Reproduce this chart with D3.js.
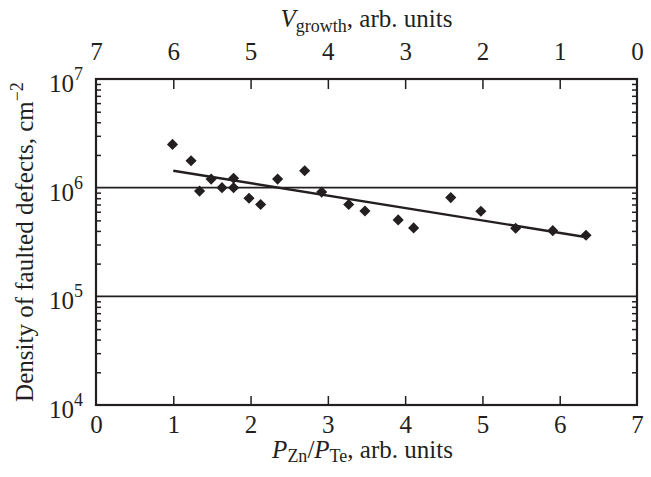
<!DOCTYPE html>
<html>
<head>
<meta charset="utf-8">
<script src="https://cdn.jsdelivr.net/npm/d3@7"></script>
<style>
  body { margin: 0; background: #fff; }
  svg { display: block; }
  text { font-family: "Liberation Serif", "Times New Roman", serif; fill: #231f20; }
</style>
</head>
<body>
<svg width="651" height="477"></svg>
<script>
// pressure ratio P_Zn/P_Te and defect density
var ratioValues = [0.99, 1.23, 1.34, 1.49, 1.63, 1.78, 1.78, 1.98, 2.13, 2.35, 2.70,
    2.92, 3.27, 3.48, 3.91, 4.11, 4.59, 4.98, 5.43, 5.91, 6.34];
var densityValues = [2.5e6, 1.77e6, 9.3e5, 1.2e6, 1.0e6, 1.22e6, 1.0e6, 8.0e5, 7.0e5, 1.2e6, 1.43e6,
    9.1e5, 7.0e5, 6.1e5, 5.05e5, 4.26e5, 8.1e5, 6.06e5, 4.23e5, 4.02e5, 3.65e5];
// straight fit (in log scale) endpoints
var fitX = [1.0, 6.35];
var fitY = [1.43e6, 3.5e5];

var bottomTicks = [0, 1, 2, 3, 4, 5, 6, 7];
var topTicks = [7, 6, 5, 4, 3, 2, 1, 0];
var decadeTicks = [1e4, 1e5, 1e6, 1e7];
var decadeExp = ['4', '5', '6', '7'];
var gridValues = [1e5, 1e6];

var svg = d3.select('svg');
var padding = {top: 79, left: 96, right: 14, bottom: 72};
var myWidth = 651 - padding.left - padding.right;
var myHeight = 477 - padding.top - padding.bottom;
var ink = '#231f20';
var fontSize = '25px';
var subSize = '18px';

var chartG = svg.append('g')
    .attr('transform', 'translate(' + [padding.left, padding.top] + ')');

var xScale = d3.scaleLinear().domain([0, 7]).range([0, myWidth]);
var xTopScale = d3.scaleLinear().domain([7, 0]).range([0, myWidth]);
var yScale = d3.scaleLog().domain([1e4, 1e7]).range([myHeight, 0]);

// minor log ticks 2..9 in every decade
var minorTicks = [];
decadeTicks.slice(0, 3).forEach(function(d) {
    for (var k = 2; k <= 9; k++) minorTicks.push(k * d);
});

// gridlines at 10^5 and 10^6
chartG.selectAll('.grid')
    .data(gridValues)
    .enter()
    .append('line')
    .attr('class', 'grid')
    .attr('x1', 0)
    .attr('x2', myWidth)
    .attr('y1', function(d) { return yScale(d); })
    .attr('y2', function(d) { return yScale(d); })
    .style('stroke', ink)
    .style('stroke-width', 1.6);

// bottom axis
var xAxisG = chartG.append('g')
    .attr('transform', 'translate(0,' + myHeight + ')')
    .call(d3.axisBottom(xScale).tickValues(bottomTicks).tickSize(-9).tickPadding(10)
        .tickFormat(d3.format('d')));

// top axis (growth rate, reversed)
var xTopG = chartG.append('g')
    .call(d3.axisTop(xTopScale).tickValues(topTicks).tickSize(-10).tickPadding(19)
        .tickFormat(d3.format('d')));

// left and right minor ticks
var yLeftG = chartG.append('g')
    .call(d3.axisLeft(yScale).tickValues(minorTicks).tickSize(-5).tickFormat(''));
var yRightG = chartG.append('g')
    .attr('transform', 'translate(' + myWidth + ',0)')
    .call(d3.axisRight(yScale).tickValues(minorTicks).tickSize(-5).tickFormat(''));

[xAxisG, xTopG, yLeftG, yRightG].forEach(function(g) {
    g.attr('font-family', null).attr('font-size', null);
    g.select('.domain').remove();
    g.selectAll('line').style('stroke', ink).style('stroke-width', 1.5);
    g.selectAll('text')
        .style('font-size', fontSize)
        .style('fill', ink);
});
xTopG.selectAll('.tick').filter(function(d) { return d === 7 || d === 0; }).select('line').remove();
xAxisG.selectAll('.tick').filter(function(d) { return d === 7 || d === 0; }).select('line').remove();

// decade labels 10^n
var decadeLabels = chartG.selectAll('.decade')
    .data(decadeTicks)
    .enter()
    .append('text')
    .attr('class', 'decade')
    .attr('text-anchor', 'end')
    .attr('x', -13)
    .attr('y', function(d) { return yScale(d) + 13; })
    .style('font-size', fontSize);
decadeLabels.append('tspan').text('10');
decadeLabels.append('tspan')
    .attr('dy', -12)
    .style('font-size', subSize)
    .text(function(d, i) { return decadeExp[i]; });

// frame
chartG.append('rect')
    .attr('width', myWidth)
    .attr('height', myHeight)
    .style('fill', 'none')
    .style('stroke', ink)
    .style('stroke-width', 2.2);

// fit line
var line = d3.line()
    .x(function(d) { return xScale(d[0]); })
    .y(function(d) { return yScale(d[1]); });
chartG.append('path')
    .datum(d3.zip(fitX, fitY))
    .attr('d', line)
    .style('fill', 'none')
    .style('stroke', ink)
    .style('stroke-width', 2.4);

// diamonds
var diamond = d3.symbol().type(d3.symbolSquare).size(62);
chartG.selectAll('.pt')
    .data(d3.zip(ratioValues, densityValues))
    .enter()
    .append('path')
    .attr('class', 'pt')
    .attr('d', diamond)
    .attr('transform', function(d) {
        return 'translate(' + [xScale(d[0]), yScale(d[1])] + ') rotate(45)';
    })
    .style('fill', ink);

// axis titles
var topTitle = svg.append('text')
    .attr('x', padding.left + myWidth / 2)
    .attr('y', 27)
    .attr('text-anchor', 'middle')
    .style('font-size', fontSize);
topTitle.append('tspan').style('font-style', 'italic').text('V');
topTitle.append('tspan').attr('dy', 5).style('font-size', subSize).text('growth');
topTitle.append('tspan').attr('dy', -5).text(', arb. units');

var bottomTitle = svg.append('text')
    .attr('x', padding.left + myWidth / 2 - 4)
    .attr('y', 458)
    .attr('text-anchor', 'middle')
    .style('font-size', fontSize);
bottomTitle.append('tspan').style('font-style', 'italic').text('P');
bottomTitle.append('tspan').attr('dy', 4).style('font-size', subSize).text('Zn');
bottomTitle.append('tspan').attr('dy', -4).text('/');
bottomTitle.append('tspan').style('font-style', 'italic').text('P');
bottomTitle.append('tspan').attr('dy', 4).style('font-size', subSize).text('Te');
bottomTitle.append('tspan').attr('dy', -4).text(', arb. units');

var yTitle = svg.append('text')
    .attr('transform', 'translate(33,' + (padding.top + myHeight / 2) + ') rotate(-90)')
    .attr('text-anchor', 'middle')
    .style('font-size', fontSize);
yTitle.append('tspan').text('Density of faulted defects, cm');
yTitle.append('tspan').attr('dy', -10).style('font-size', subSize).text('\u22122');
</script>
</body>
</html>
